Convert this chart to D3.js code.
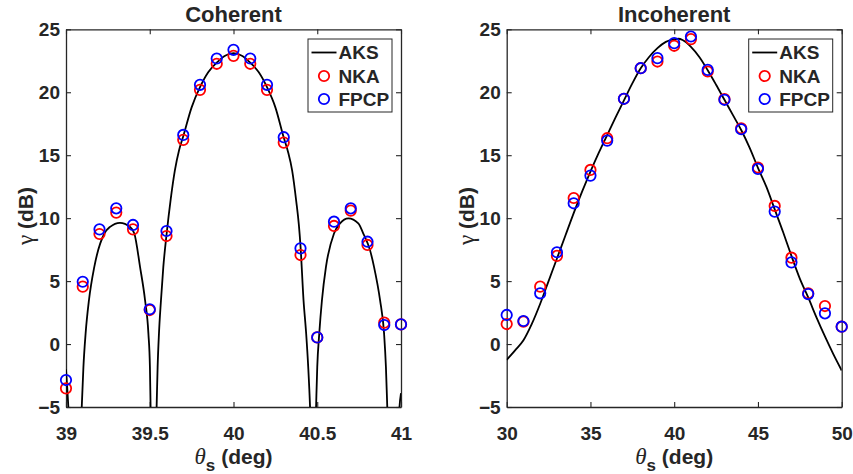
<!DOCTYPE html>
<html>
<head>
<meta charset="utf-8">
<script src="https://cdn.jsdelivr.net/npm/d3@7"></script>
<style>
  body { margin: 0; background: #fff; }
  svg text { font-family: "Liberation Sans", Arial, Helvetica, sans-serif; font-weight: bold; fill: #262626; }
</style>
</head>
<body>
<svg id="chart" width="853" height="474"></svg>
<script>
// ---- Coherent ----
const cohTheta = [39.0, 39.1, 39.2, 39.3, 39.4, 39.5, 39.6, 39.7, 39.8, 39.9, 40.0,
                  40.1, 40.2, 40.3, 40.4, 40.5, 40.6, 40.7, 40.8, 40.9, 41.0];
const cohNKA  = [-3.52, 4.56, 8.74, 10.44, 9.11, 2.70, 8.58, 16.22, 20.19, 22.26, 22.89,
                 22.26, 20.19, 16.0, 7.07, 0.53, 9.38, 10.6, 7.87, 1.70, 1.56];
const cohFPCP = [-2.86, 4.95, 9.11, 10.78, 9.46, 2.76, 8.98, 16.61, 20.59, 22.68, 23.37,
                 22.68, 20.59, 16.43, 7.60, 0.53, 9.72, 10.78, 8.13, 1.51, 1.56];
// AKS curve (values below -5 are clipped)
const cohAksTheta = [39.0, 39.007, 39.014, 39.04, 39.06, 39.085, 39.094, 39.104, 39.117, 39.137,
                     39.169, 39.229, 39.263, 39.322, 39.382, 39.408, 39.442, 39.472, 39.492, 39.501,
                     39.505, 39.523, 39.541, 39.547, 39.555, 39.567, 39.581, 39.601, 39.625, 39.65,
                     39.675, 39.7, 39.75, 39.8, 39.85, 39.9, 39.95, 40.0, 40.05, 40.1,
                     40.15, 40.2, 40.25, 40.3, 40.325, 40.35, 40.375, 40.39, 40.4, 40.418,
                     40.434, 40.446, 40.457, 40.475, 40.493, 40.5, 40.512, 40.528, 40.552, 40.6,
                     40.636, 40.686, 40.745, 40.775, 40.815, 40.839, 40.875, 40.899, 40.91, 40.918,
                     40.95, 40.985, 40.991, 41.0];
const cohAksGamma = [-2.0, -3.4, -5, -12, -14, -9, -5, -1.82, 0.83, 3.48,
                     6.13, 8.78, 9.31, 9.63, 9.31, 8.78, 6.13, 3.48, 0.83, -1.82,
                     -5, -14, -5, -1.82, 0.83, 3.48, 6.13, 8.78, 11.5, 13.8,
                     15.4, 16.5, 18.8, 20.4, 21.6, 22.35, 22.9, 23.1, 22.9, 22.35,
                     21.6, 20.4, 18.8, 16.4, 15.3, 13.8, 11.3, 9.5, 7.8, 3.5,
                     0.8, -1.8, -5, -14, -5, -1.82, 0.83, 3.48, 6.13, 8.78,
                     9.58, 9.98, 9.58, 8.78, 7.46, 6.13, 3.48, 0.83, -1.82, -5,
                     -14, -6.5, -5, -3.9];

// ---- Incoherent ----
const incTheta = [30, 31, 32, 33, 34, 35, 36, 37, 38, 39, 40,
                  41, 42, 43, 44, 45, 46, 47, 48, 49, 50];
const incNKA  = [1.59, 1.78, 4.56, 7.0, 11.6, 13.83, 16.35, 19.48, 21.91, 22.44, 23.69,
                 24.22, 21.65, 19.45, 17.14, 14.02, 10.97, 6.86, 4.03, 3.02, 1.38];
const incFPCP = [2.31, 1.83, 4.03, 7.29, 11.18, 13.38, 16.16, 19.48, 21.91, 22.71, 23.9,
                 24.43, 21.78, 19.4, 17.06, 13.91, 10.52, 6.49, 3.97, 2.44, 1.38];
const incAksTheta = [30, 30.5, 31, 31.5, 32, 32.5, 33, 33.5, 34, 34.5, 35, 35.5, 36, 36.5,
                     37, 37.5, 38, 38.5, 39, 39.5, 40, 40.25, 40.5, 41, 41.5, 42, 42.5, 43,
                     43.5, 44, 44.5, 45, 45.5, 46, 46.5, 47, 47.5, 48, 48.5, 49, 49.5, 50];
const incAksGamma = [-1.25, -0.5, 0.3, 1.6, 3.2, 5.0, 6.8, 8.6, 10.4, 12.1, 13.7, 15.2, 16.6, 18.0,
                     19.35, 20.7, 21.9, 22.8, 23.5, 24.0, 24.2, 24.25, 24.15, 23.6, 22.8, 21.75, 20.6, 19.4,
                     18.2, 17.0, 15.6, 14.0, 12.5, 10.7, 8.9, 7.0, 5.2, 3.7, 2.1, 0.6, -0.8, -2.1];

const yTicks = [-5, 0, 5, 10, 15, 20, 25];
const cohXTicks = [39, 39.5, 40, 40.5, 41];
const incXTicks = [30, 35, 40, 45, 50];
const legendNames = ["AKS", "NKA", "FPCP"];

const svg = d3.select("#chart");
const axisColor = "#262626";

function drawPanel(opt) {
  const x = d3.scaleLinear().domain(opt.xDomain).range([opt.left, opt.right]);
  const y = d3.scaleLinear().domain([-5, 25]).range([407, 29.3]);
  const g = svg.append("g");

  // clip to the axes box
  g.append("clipPath").attr("id", opt.id + "-clip")
    .append("rect")
    .attr("x", opt.left).attr("y", 29.3)
    .attr("width", opt.right - opt.left).attr("height", 407 - 29.3);

  // axes, ticks inside on all four sides
  const bottom = g.append("g").attr("transform", "translate(0,407)")
    .call(d3.axisBottom(x).tickValues(opt.xTicks).tickSize(-5).tickSizeOuter(0).tickPadding(20)
      .tickFormat(d3.format("")));
  const top = g.append("g").attr("transform", "translate(0,29.3)")
    .call(d3.axisTop(x).tickValues(opt.xTicks).tickSize(-5).tickSizeOuter(0).tickFormat(""));
  const left = g.append("g").attr("transform", `translate(${opt.left},0)`)
    .call(d3.axisLeft(y).tickValues(yTicks).tickSize(-5).tickSizeOuter(0).tickPadding(6));
  const right = g.append("g").attr("transform", `translate(${opt.right},0)`)
    .call(d3.axisRight(y).tickValues(yTicks).tickSize(-5).tickSizeOuter(0).tickFormat(""));

  [bottom, top, left, right].forEach(a => {
    a.select(".domain").attr("stroke", axisColor).attr("stroke-width", 1.3);
    a.selectAll(".tick line").attr("stroke", axisColor).attr("stroke-width", 1.1);
    a.selectAll(".tick text").attr("font-size", "19px").attr("fill", axisColor);
  });
  bottom.selectAll(".tick text").attr("dy", "0.71em");

  // AKS curve
  const line = d3.line()
    .x(d => x(d[0]))
    .y(d => y(d[1]))
    .curve(d3.curveMonotoneX);
  g.append("path")
    .datum(d3.zip(opt.aksTheta, opt.aksGamma))
    .attr("clip-path", `url(#${opt.id}-clip)`)
    .attr("d", line)
    .attr("fill", "none")
    .attr("stroke", "#000")
    .attr("stroke-width", 1.8);

  // NKA (red) then FPCP (blue) markers
  const marks = g.append("g");
  marks.selectAll("circle.nka")
    .data(d3.zip(opt.theta, opt.nka))
    .enter().append("circle")
    .attr("class", "nka")
    .attr("cx", d => x(d[0])).attr("cy", d => y(d[1])).attr("r", 5.2)
    .attr("fill", "none").attr("stroke", "#ff0000").attr("stroke-width", 1.8);
  marks.selectAll("circle.fpcp")
    .data(d3.zip(opt.theta, opt.fpcp))
    .enter().append("circle")
    .attr("class", "fpcp")
    .attr("cx", d => x(d[0])).attr("cy", d => y(d[1])).attr("r", 5.2)
    .attr("fill", "none").attr("stroke", "#0000ff").attr("stroke-width", 1.8);

  const cx = (opt.left + opt.right) / 2;

  // title
  g.append("text")
    .attr("x", cx).attr("y", 21.5)
    .attr("text-anchor", "middle")
    .attr("font-size", "22px")
    .attr("fill", "#000")
    .text(opt.title);

  // x label: theta_s (deg)
  const xl = g.append("text")
    .attr("x", cx).attr("y", 464)
    .attr("text-anchor", "middle")
    .attr("font-size", "21px");
  xl.append("tspan").style("font-family", "'Liberation Serif', serif")
    .style("font-style", "italic").style("font-weight", "normal").attr("font-size", "23px").text("θ");
  xl.append("tspan").attr("dy", 7).attr("font-size", "17px").text("s");
  xl.append("tspan").attr("dy", -7).text(" (deg)");

  // y label: gamma (dB)
  const yl = g.append("text")
    .attr("transform", `translate(${opt.left - 33},216) rotate(-90)`)
    .attr("text-anchor", "middle")
    .attr("font-size", "21px");
  yl.append("tspan").style("font-family", "'Liberation Serif', serif")
    .style("font-weight", "normal").attr("font-size", "23px").text("γ");
  yl.append("tspan").text(" (dB)");

  // legend
  const lx = opt.right - 93, ly = 39;
  const lg = g.append("g").attr("transform", `translate(${lx},${ly})`);
  lg.append("rect")
    .attr("width", 84).attr("height", 73)
    .attr("fill", "#fff").attr("stroke", axisColor).attr("stroke-width", 1);
  lg.append("line")
    .attr("x1", 3.5).attr("x2", 28.5).attr("y1", 13.5).attr("y2", 13.5)
    .attr("stroke", "#000").attr("stroke-width", 1.8);
  lg.append("circle").attr("cx", 16).attr("cy", 37).attr("r", 5.2)
    .attr("fill", "none").attr("stroke", "#ff0000").attr("stroke-width", 1.8);
  lg.append("circle").attr("cx", 16).attr("cy", 60).attr("r", 5.2)
    .attr("fill", "none").attr("stroke", "#0000ff").attr("stroke-width", 1.8);
  lg.selectAll("text.leg")
    .data(legendNames)
    .enter().append("text")
    .attr("class", "leg")
    .attr("x", 30.5)
    .attr("y", (d, i) => 20.3 + i * 23.3)
    .attr("font-size", "19px")
    .attr("fill", "#000")
    .text(d => d);
}

drawPanel({
  id: "coh", title: "Coherent", left: 66, right: 401,
  xDomain: [39, 41], xTicks: cohXTicks,
  theta: cohTheta, nka: cohNKA, fpcp: cohFPCP,
  aksTheta: cohAksTheta, aksGamma: cohAksGamma
});

drawPanel({
  id: "inc", title: "Incoherent", left: 506.7, right: 841.7,
  xDomain: [30, 50], xTicks: incXTicks,
  theta: incTheta, nka: incNKA, fpcp: incFPCP,
  aksTheta: incAksTheta, aksGamma: incAksGamma
});
</script>
</body>
</html>
